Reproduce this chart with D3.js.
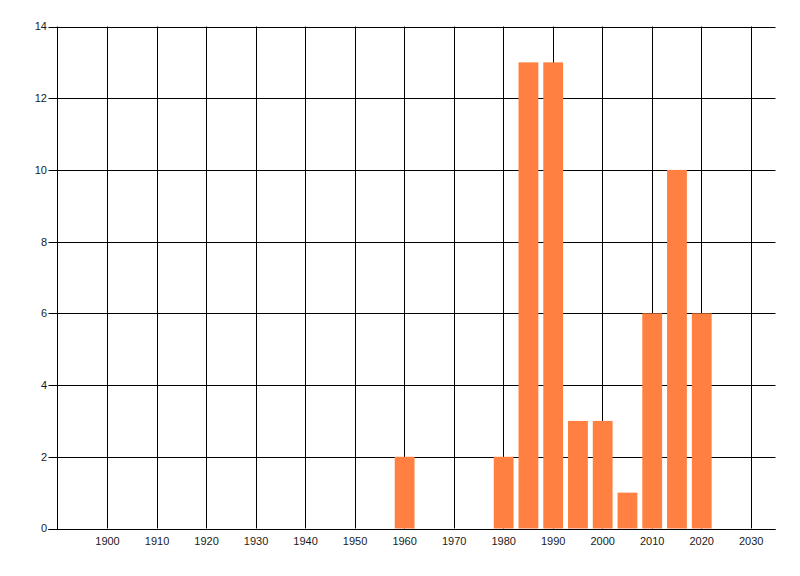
<!DOCTYPE html>
<html>
<head>
<meta charset="utf-8">
<script src="https://cdn.jsdelivr.net/npm/d3@7/dist/d3.min.js"></script>
<style>
html,body{margin:0;padding:0;background:#fff;}
svg{display:block;}
text{font-family:"Liberation Sans",Arial,sans-serif;font-size:11px;fill:#1a1a1a;}
</style>
</head>
<body>
<script>
const years = [1960, 1980, 1985, 1990, 1995, 2000, 2005, 2010, 2015, 2020];
const counts = [2, 2, 13, 13, 3, 3, 1, 6, 10, 6];
const xTicks = [1900, 1910, 1920, 1930, 1940, 1950, 1960, 1970, 1980, 1990, 2000, 2010, 2020, 2030];
const yTicks = [0, 2, 4, 6, 8, 10, 12, 14];

const W = 800, H = 576;
const m = {left: 57.5, right: 24.5, top: 26.5, bottom: 47.5};
const svg = d3.select("body").append("svg").attr("width", W).attr("height", H);

const x = d3.scaleLinear().domain([1890, 2035]).range([m.left, W - m.right]);
const y = d3.scaleLinear().domain([0, 14]).range([H - m.bottom, m.top]);

// grid
const g = svg.append("g");
g.selectAll("line.v").data(xTicks).enter().append("line")
  .attr("x1", d => Math.round(x(d)) + 0.5).attr("x2", d => Math.round(x(d)) + 0.5)
  .attr("y1", y(14)).attr("y2", y(0))
  .attr("stroke", "#000").attr("stroke-width", 1);
g.selectAll("line.h").data(yTicks).enter().append("line")
  .attr("x1", m.left - 9).attr("x2", W - m.right)
  .attr("y1", d => Math.round(y(d)) + 0.5).attr("y2", d => Math.round(y(d)) + 0.5)
  .attr("stroke", "#000").attr("stroke-width", 1);

// bars
svg.append("g").selectAll("rect").data(years).enter().append("rect")
  .attr("x", (d) => x(d - 2) + 0.5)
  .attr("width", (d) => x(d + 2) - x(d - 2))
  .attr("y", (d, i) => y(counts[i]))
  .attr("height", (d, i) => y(0) - y(counts[i]))
  .attr("fill", "#ff8040");

// left axis line
svg.append("line").attr("x1", m.left).attr("x2", m.left)
  .attr("y1", y(14)).attr("y2", y(0) + 0.5).attr("stroke", "#000");
// bottom axis line
svg.append("line").attr("x1", m.left - 9).attr("x2", W - m.right)
  .attr("y1", Math.round(y(0)) + 0.5).attr("y2", Math.round(y(0)) + 0.5).attr("stroke", "#000");

// y labels
svg.append("g").selectAll("text").data(yTicks).enter().append("text")
  .attr("x", m.left - 10.5).attr("y", d => y(d)).attr("dy", "0.36em")
  .attr("text-anchor", "end").text(d => d);

// x labels
svg.append("g").selectAll("text").data(xTicks).enter().append("text")
  .attr("x", d => x(d) + 0.5).attr("y", y(0) + 16)
  .attr("text-anchor", "middle").text(d => d);
</script>
</body>
</html>
